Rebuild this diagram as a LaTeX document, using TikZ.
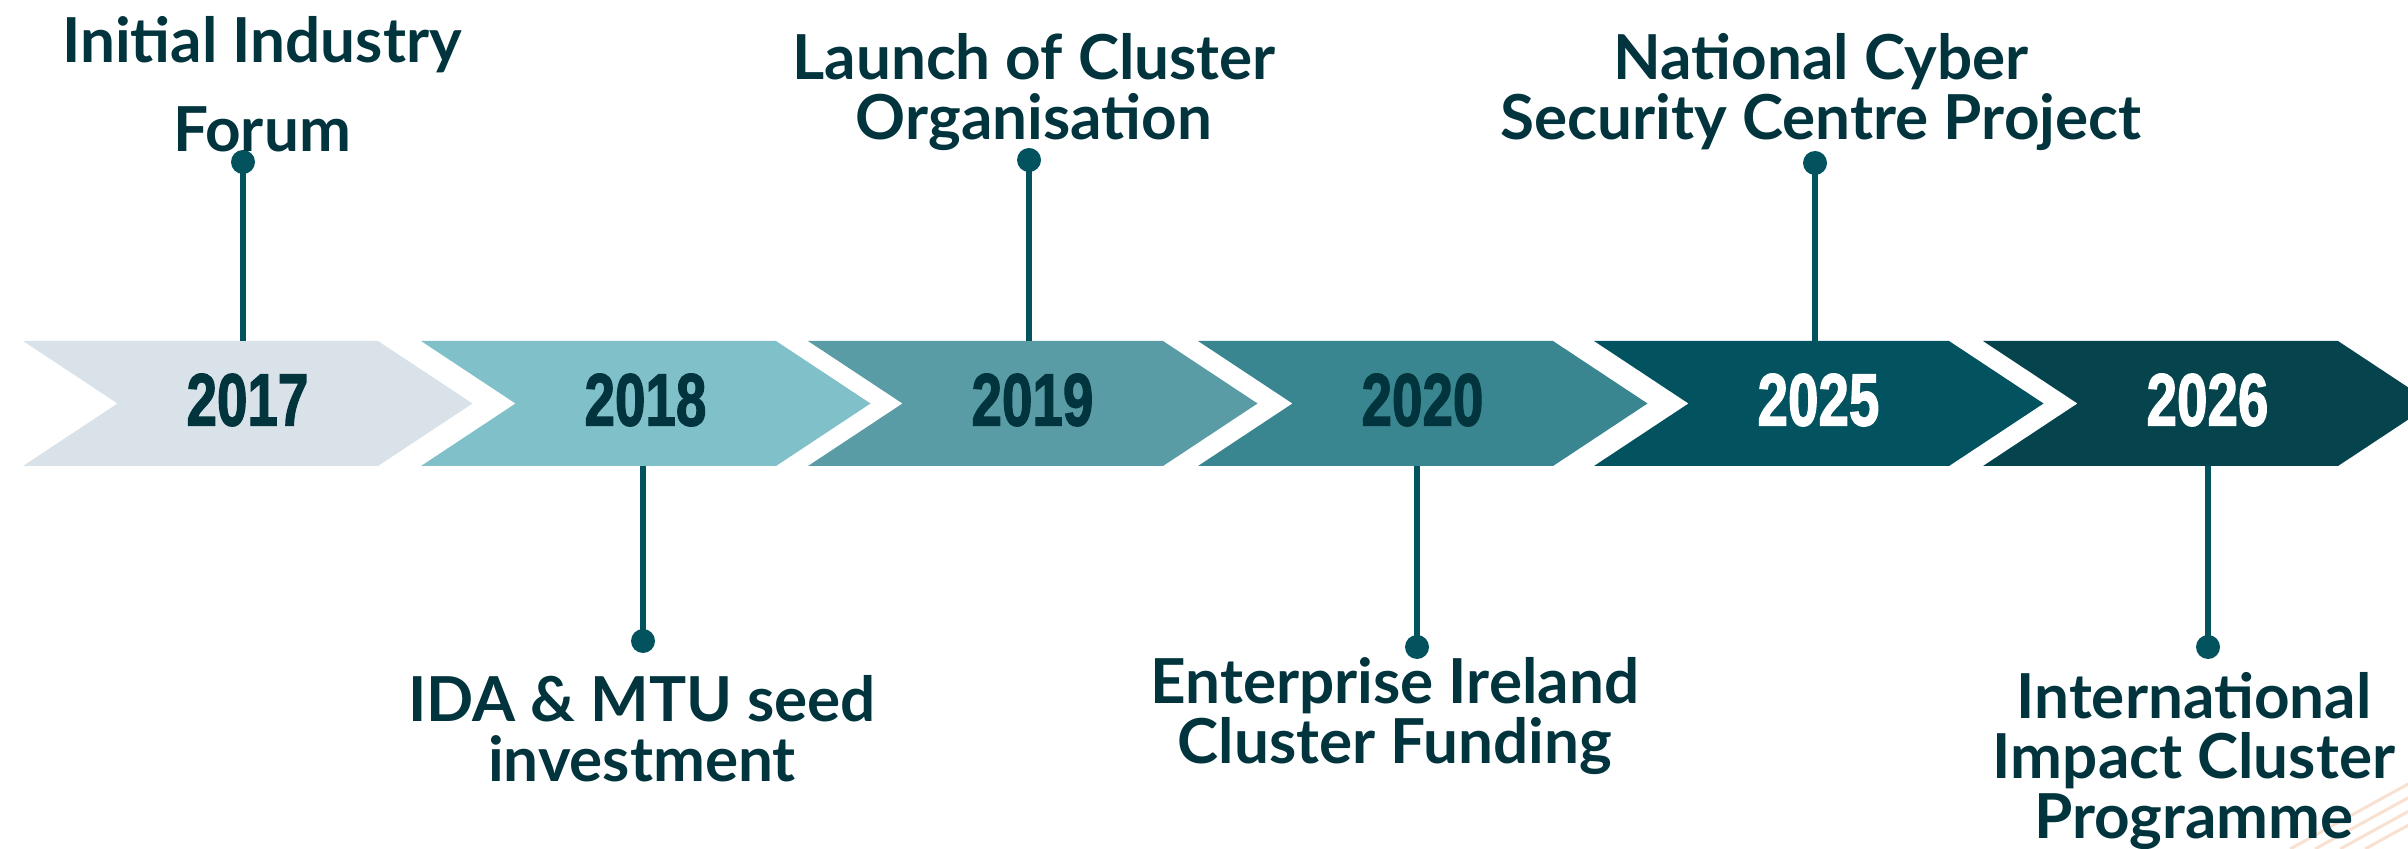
\documentclass[tikz,border=0pt]{standalone}
\usepackage{fontspec}
\setmainfont{Lato}
\newfontface\yearfont{Liberation Sans Bold}[FakeBold=2]
\usetikzlibrary{calc}

\definecolor{ink}{HTML}{02343D}
\definecolor{stem}{HTML}{03535F}
\definecolor{cA}{HTML}{D9E2E9}
\definecolor{cB}{HTML}{80C0C9}
\definecolor{cC}{HTML}{5A9CA5}
\definecolor{cD}{HTML}{3A8690}
\definecolor{cE}{HTML}{02535F}
\definecolor{cF}{HTML}{06444D}
\definecolor{peach}{HTML}{F9E1D2}

\tikzset{
  year/.style={font=\yearfont\fontsize{37}{37}\selectfont, xscale=.74, inner sep=0pt},
  event/.style={font=\bfseries\fontsize{31}{30}\selectfont, text=ink, align=center, anchor=base, inner sep=0pt},
  stemline/.style={stem, line width=2.8pt},
  pin/.style={circle, fill=stem, minimum size=12pt, inner sep=0pt},
}

\begin{document}
\begin{tikzpicture}[x=0.5pt, y=-0.5pt]
\useasboundingbox (0,0) rectangle (2408,849);
\clip (0,0) rectangle (2408,849);

% faint stripes, bottom right
\draw[peach, line width=1.5pt] (2290,849) -- ++(200,-110);
\draw[peach, line width=1.5pt] (2315,849) -- ++(200,-110);
\draw[peach, line width=1.5pt] (2340,849) -- ++(200,-110);
\draw[peach, line width=1.5pt] (2365,849) -- ++(200,-110);

% chevrons
\fill[cA] (23,341) -- ++(355,0) -- ++(94.5,62.5) -- ++(-94.5,62.5) -- ++(-355,0) -- ++(94.5,-62.5) -- cycle;
\fill[cB] (421,341) -- ++(355,0) -- ++(94.5,62.5) -- ++(-94.5,62.5) -- ++(-355,0) -- ++(94.5,-62.5) -- cycle;
\fill[cC] (808,341) -- ++(355,0) -- ++(94.5,62.5) -- ++(-94.5,62.5) -- ++(-355,0) -- ++(94.5,-62.5) -- cycle;
\fill[cD] (1198,341) -- ++(355,0) -- ++(94.5,62.5) -- ++(-94.5,62.5) -- ++(-355,0) -- ++(94.5,-62.5) -- cycle;
\fill[cE] (1594,341) -- ++(355,0) -- ++(94.5,62.5) -- ++(-94.5,62.5) -- ++(-355,0) -- ++(94.5,-62.5) -- cycle;
\fill[cF] (1983,341) -- ++(355,0) -- ++(94.5,62.5) -- ++(-94.5,62.5) -- ++(-355,0) -- ++(94.5,-62.5) -- cycle;

% years
\node[year, text=ink] (y2017) at (247.5,400) {2017};
\node[year, text=ink] (y2018) at (645.5,400) {2018};
\node[year, text=ink] (y2019) at (1032.5,400) {2019};
\node[year, text=ink] (y2020) at (1422.5,400) {2020};
\node[year, text=white] (y2025) at (1818.5,400) {2025};
\node[year, text=white] (y2026) at (2207.5,400) {2026};

% stems
\coordinate (t2017) at (243,341);
\coordinate (t2018) at (643,466);
\coordinate (t2019) at (1029,341);
\coordinate (t2020) at (1417,466);
\coordinate (t2025) at (1815,341);
\coordinate (t2026) at (2208,466);
\node[pin] (p2017) at (243,162) {};
\node[pin] (p2018) at (643,641) {};
\node[pin] (p2019) at (1029,160) {};
\node[pin] (p2020) at (1417,647) {};
\node[pin] (p2025) at (1815,163) {};
\node[pin] (p2026) at (2208,647) {};
\draw[stemline] (t2017) -- (p2017.center);
\draw[stemline] (t2018) -- (p2018.center);
\draw[stemline] (t2019) -- (p2019.center);
\draw[stemline] (t2020) -- (p2020.center);
\draw[stemline] (t2025) -- (p2025.center);
\draw[stemline] (t2026) -- (p2026.center);

% events (anchored on the baseline of the last line)
\node[event, font=\bfseries\fontsize{31}{44.7}\selectfont] (e2017) at (262,152) {Initial Industry\\Forum};
\node[event] (e2019) at (1034,140) {Launch of Cluster\\Organisation};
\node[event] (e2025) at (1821,140) {National Cyber\\Security Centre Project};
\node[event] (e2018) at (642,781) {IDA \& MTU seed\\investment};
\node[event] (e2020) at (1395,763) {Enterprise Ireland\\Cluster Funding};
\node[event] (e2026) at (2194,838) {International\\Impact Cluster\\Programme};

\end{tikzpicture}
\end{document}
